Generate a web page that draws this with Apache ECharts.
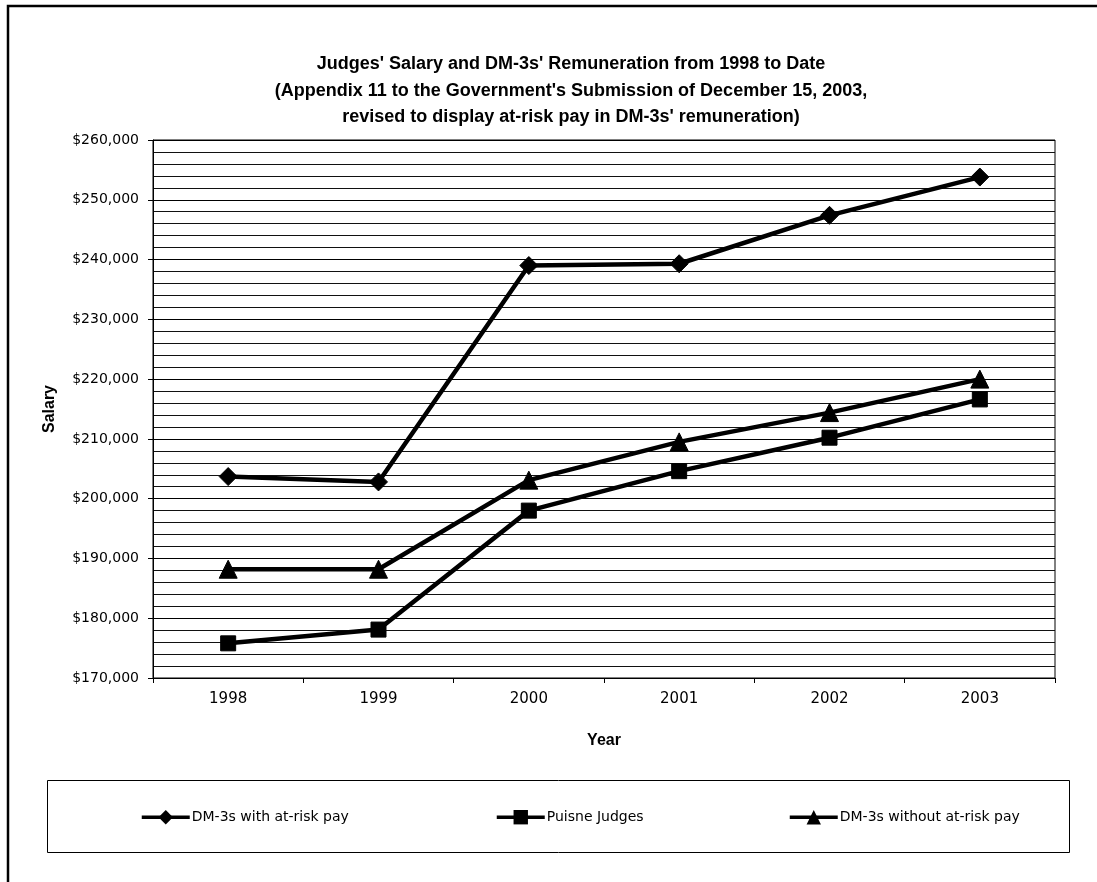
<!DOCTYPE html>
<html>
<head>
<meta charset="utf-8">
<script src="https://cdn.jsdelivr.net/npm/echarts@6/dist/echarts.min.js"></script>
<style>
html,body{margin:0;padding:0;background:#fff;}
#chart{width:1097px;height:882px;}
</style>
</head>
<body>
<div id="chart"></div>
<script>
const titleLines = [
  "Judges' Salary and DM-3s' Remuneration from 1998 to Date",
  "(Appendix 11 to the Government's Submission of December 15, 2003,",
  "revised to display at-risk pay in DM-3s' remuneration)"
];
const years = ['1998', '1999', '2000', '2001', '2002', '2003'];
const seriesNames = ['DM-3s with at-risk pay', 'Puisne Judges', 'DM-3s without at-risk pay'];
const dmWithRisk = [203700, 202800, 239000, 239300, 247400, 253800];
const puisneJudges = [175800, 178100, 198000, 204600, 210200, 216600];
const dmWithoutRisk = [188200, 188200, 203100, 209500, 214400, 220000];
const yMin = 170000, yMax = 260000, yStep = 10000;
const xAxisTitle = 'Year', yAxisTitle = 'Salary';

const chart = echarts.init(document.getElementById('chart'));
const FONT = 'DejaVu Sans';
const symbols = ['diamond', 'rect', 'triangle'];
const symbolSizes = [18, 15, 18];
const values = [dmWithRisk, puisneJudges, dmWithoutRisk];
const legendLefts = [135, 490, 783];

chart.setOption({
  animation: false,
  backgroundColor: '#fff',
  title: {
    text: titleLines.join('\n'),
    left: 566, top: 46, textAlign: 'center',
    textStyle: {fontFamily: 'Liberation Sans', fontWeight: 'bold', fontSize: 18, lineHeight: 26.5, color: '#000'}
  },
  graphic: [
    {type: 'rect', shape: {x: 8, y: 6, width: 1200, height: 1000}, style: {fill: 'none', stroke: '#000', lineWidth: 2.5}, silent: true},
    {type: 'rect', shape: {x: 47.5, y: 780.5, width: 1022, height: 72}, style: {fill: 'none', stroke: '#000', lineWidth: 1}, silent: true}
  ],
  legend: seriesNames.map((n, i) => ({
    data: [n], left: legendLefts[i], top: 805, itemWidth: 48, itemHeight: 18, itemGap: 4,
    lineStyle: {width: 3.5, color: '#000'},
    textStyle: {fontFamily: FONT, fontSize: 14, color: '#000', padding: [0, 0, 0, -3]}
  })),
  grid: {left: 153, right: 42, top: 140, bottom: 204, show: true, borderColor: '#000', borderWidth: 1, containLabel: false},
  xAxis: {
    type: 'category', data: years, boundaryGap: true,
    name: xAxisTitle, nameLocation: 'middle', nameGap: 55,
    nameTextStyle: {fontFamily: 'Liberation Sans', fontWeight: 'bold', fontSize: 16, color: '#000'},
    axisLine: {lineStyle: {color: '#000', width: 1}},
    axisTick: {show: true, inside: false, length: 5, lineStyle: {color: '#000'}},
    axisLabel: {fontFamily: FONT, fontSize: 15, color: '#000', margin: 14},
    splitLine: {show: false}
  },
  yAxis: {
    type: 'value', min: yMin, max: yMax, interval: yStep,
    name: yAxisTitle, nameLocation: 'middle', nameGap: 95, nameRotate: 90,
    nameTextStyle: {fontFamily: 'Liberation Sans', fontWeight: 'bold', fontSize: 16, color: '#000'},
    axisLine: {show: true, lineStyle: {color: '#000', width: 1}},
    axisTick: {show: true, inside: false, length: 5, lineStyle: {color: '#000'}},
    axisLabel: {fontFamily: FONT, fontSize: 14, color: '#000', margin: 14,
      formatter: v => '$' + v.toLocaleString('en-US')},
    splitLine: {show: true, lineStyle: {color: '#000', width: 1.2}},
    minorTick: {show: false, splitNumber: 5},
    minorSplitLine: {show: true, lineStyle: {color: '#111', width: 1.2}}
  },
  series: seriesNames.map((n, i) => ({
    name: n, type: 'line', data: values[i],
    symbol: symbols[i], symbolSize: symbolSizes[i],
    lineStyle: {color: '#000', width: 4.5},
    itemStyle: {color: '#000', borderColor: '#000'},
    z: 3
  }))
});
</script>
</body>
</html>
